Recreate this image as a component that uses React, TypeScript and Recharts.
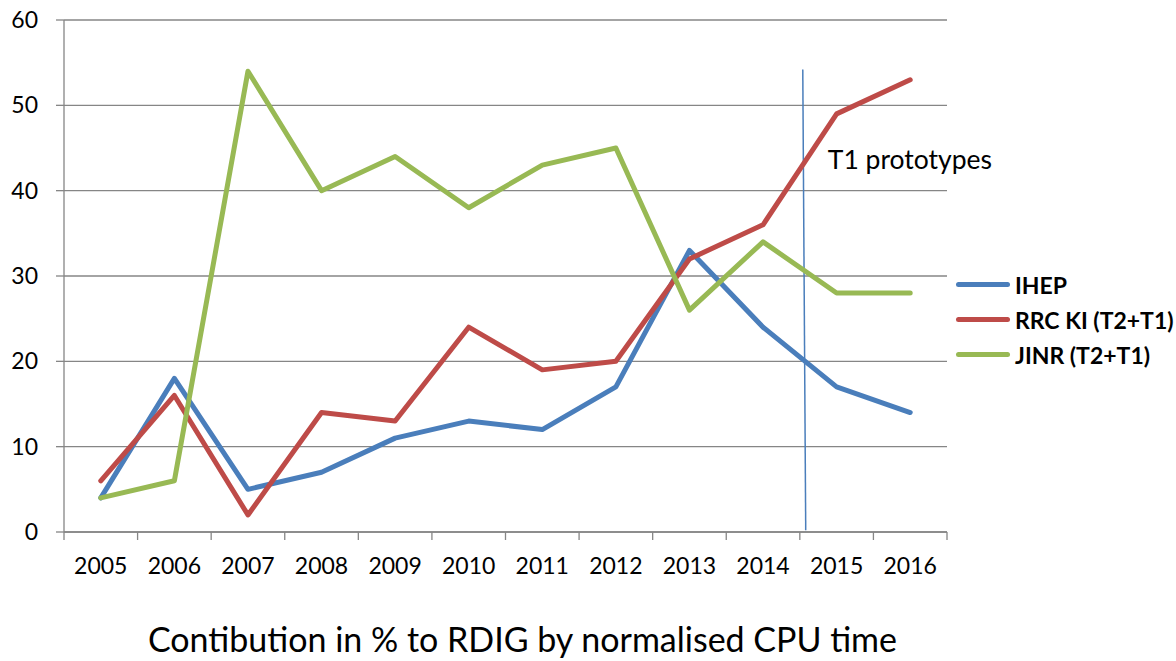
import React from 'react';
import { LineChart, Line, XAxis, YAxis, CartesianGrid, Legend, ReferenceLine, ReferenceDot, Label } from 'recharts';

const years = ['2005', '2006', '2007', '2008', '2009', '2010', '2011', '2012', '2013', '2014', '2015', '2016'];
const ihep = [4, 18, 5, 7, 11, 13, 12, 17, 33, 24, 17, 14];
const rrcki = [6, 16, 2, 14, 13, 24, 19, 20, 32, 36, 49, 53];
const jinr = [4, 6, 54, 40, 44, 38, 43, 45, 26, 34, 28, 28];
const yTicks = [0, 10, 20, 30, 40, 50, 60];
const xTicks = [...years.flatMap((_, i) => [i - 0.5, i]), years.length - 0.5];

const series = [
  { key: 'ihep', name: 'IHEP', color: '#4A7EBB' },
  { key: 'rrcki', name: 'RRC KI (T2+T1)', color: '#BE4B48' },
  { key: 'jinr', name: 'JINR (T2+T1)', color: '#98B954' },
];

const data = years.map((y, i) => ({ i, year: y, ihep: ihep[i], rrcki: rrcki[i], jinr: jinr[i] }));

const FONT = 'Lato, "Open Sans", sans-serif';
const GRAY = '#868686';

const XTick = (props: any) => {
  const { x, y, payload } = props;
  const v = payload.value;
  if (Number.isInteger(v)) {
    return (
      <text x={x} y={y + 42} textAnchor="middle" fill="#000" fontSize={23} fontFamily={FONT}>
        {years[v]}
      </text>
    );
  }
  return <line x1={x} x2={x} y1={y} y2={y + 8} stroke={GRAY} strokeWidth={1.3} />;
};

const LegendContent = () => (
  <div style={{ fontFamily: FONT }}>
    {series.map((s) => (
      <div key={s.key} style={{ display: 'flex', alignItems: 'center', height: 35 }}>
        <div style={{ width: 54, height: 5, borderRadius: 3, background: s.color, marginRight: 5 }} />
        <span style={{ fontWeight: 700, fontSize: 23, color: '#000', whiteSpace: 'nowrap' }}>{s.name}</span>
      </div>
    ))}
  </div>
);

export default function App() {
  return (
    <div style={{ position: 'absolute', left: 0, top: 0, width: 1176, height: 661, background: '#fff' }}>
      <LineChart width={1176} height={661} data={data} margin={{ top: 20, right: 229, bottom: 99, left: 14 }}>
        <CartesianGrid vertical={false} stroke={GRAY} strokeWidth={1.3} />
        <XAxis
          dataKey="i"
          type="number"
          domain={[-0.5, 11.5]}
          ticks={xTicks}
          interval={0}
          axisLine={{ stroke: GRAY, strokeWidth: 1.3 }}
          tickLine={false}
          tickSize={0}
          tickMargin={0}
          height={30}
          tick={<XTick />}
        >
          <Label
            value="Contibution in % to RDIG by normalised CPU time"
            position="bottom"
            offset={66}
            dx={17}
            style={{ fill: '#000', fontSize: 34, fontFamily: FONT }}
          />
        </XAxis>
        <YAxis
          domain={[0, 60]}
          ticks={yTicks}
          width={50}
          axisLine={{ stroke: GRAY, strokeWidth: 1.3 }}
          tickLine={{ stroke: GRAY, strokeWidth: 1.3 }}
          tickSize={8}
          tickMargin={18}
          tick={{ fill: '#000', fontSize: 23, fontFamily: FONT }}
        />
        <ReferenceLine
          segment={[{ x: 9.54, y: 54.2 }, { x: 9.58, y: 0.2 }]}
          stroke="#4A7EBB"
          strokeWidth={1.5}
          ifOverflow="visible"
        />
        <ReferenceDot
          x={9.88}
          y={43.6}
          r={0}
          stroke="none"
          fill="none"
          ifOverflow="visible"
          label={{ value: 'T1 prototypes', position: 'right', offset: 0, fill: '#000', fontSize: 26.5, fontFamily: FONT }}
        />
        {series.map((s) => (
          <Line
            key={s.key}
            dataKey={s.key}
            name={s.name}
            stroke={s.color}
            strokeWidth={5}
            strokeLinejoin="round"
            strokeLinecap="round"
            dot={false}
            activeDot={false}
            isAnimationActive={false}
          />
        ))}
        <Legend
          layout="vertical"
          align="center"
          verticalAlign="middle"
          content={<LegendContent />}
          wrapperStyle={{ position: 'absolute', left: 956, top: 267, width: 220 }}
        />
      </LineChart>
    </div>
  );
}
